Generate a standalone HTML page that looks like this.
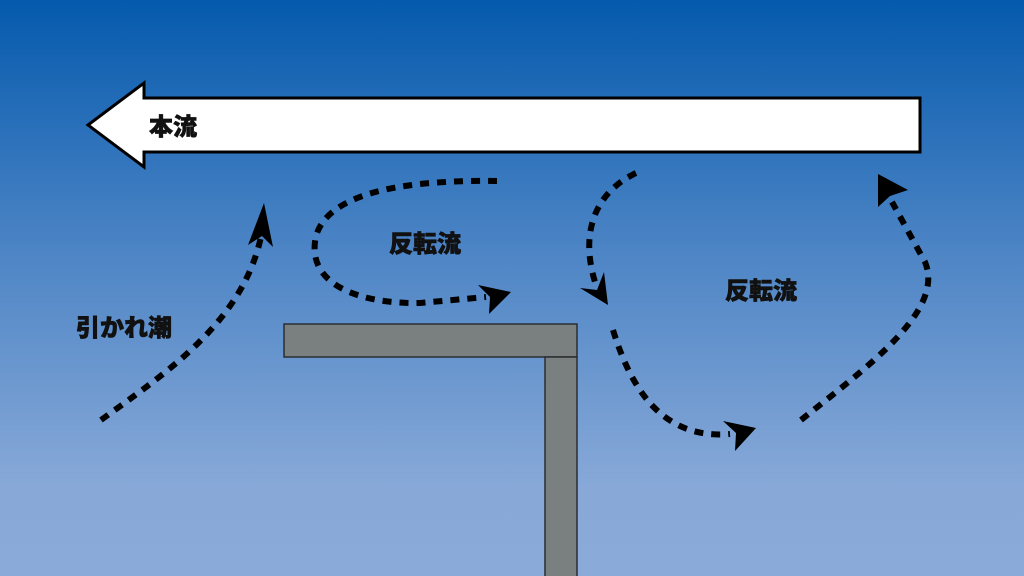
<!DOCTYPE html>
<html><head><meta charset="utf-8"><style>
html,body{margin:0;padding:0;width:1024px;height:576px;overflow:hidden}
svg{display:block}
text{font-family:"Liberation Sans","Noto Sans CJK JP",sans-serif;font-weight:900;fill:#111;stroke:#111;stroke-width:0.6}
</style></head><body>
<svg width="1024" height="576" viewBox="0 0 1024 576" xmlns="http://www.w3.org/2000/svg">
<defs><linearGradient id="bg" x1="0" y1="0" x2="0" y2="1">
<stop offset="0" stop-color="#055aad"/>
<stop offset="0.45" stop-color="#4f86c6"/>
<stop offset="0.85" stop-color="#88a9d8"/>
<stop offset="1" stop-color="#8aaad9"/>
</linearGradient></defs>
<rect width="1024" height="576" fill="url(#bg)"/>
<polygon points="88,125 144,83 144,98 920,98 920,152 144,152 144,167" fill="#fff" stroke="#000" stroke-width="3" stroke-linejoin="miter"/>
<text x="149" y="135" font-size="24">本流</text>
<rect x="284" y="324" width="293" height="33" fill="#7a8080" stroke="#2a2e30" stroke-width="1.5"/>
<rect x="545" y="357" width="32" height="222" fill="#7a8080" stroke="#2a2e30" stroke-width="1.5"/>
<g fill="none" stroke="#000" stroke-width="6" stroke-dasharray="9 8">
<path d="M101,420 C170,370 245,320 262,232"/>
<path d="M497,181 C420,180 330,188 316,236 C305,285 360,304 420,303 L486,297"/>
<path d="M636,173 C590,195 580,240 597,288"/>
<path d="M613,330 C630,385 660,440 730,434"/>
<path d="M801,420 C870,365 945,310 925,262 L892,202"/>
</g>
<g fill="#000">
<polygon points="264,203 248,245 262,236 273,247"/>
<polygon points="511,292 478,285 490,297 489,314"/>
<polygon points="608,305 580,288 597,290 604,272"/>
<polygon points="756,428 723,421 736,433 735,451"/>
<polygon points="878,174 908,190 890,196 878,207"/>
</g>
<text x="389" y="252" font-size="24">反転流</text>
<text x="725" y="299" font-size="24">反転流</text>
<text x="76" y="336" font-size="24">引かれ潮</text>
</svg>
</body></html>
